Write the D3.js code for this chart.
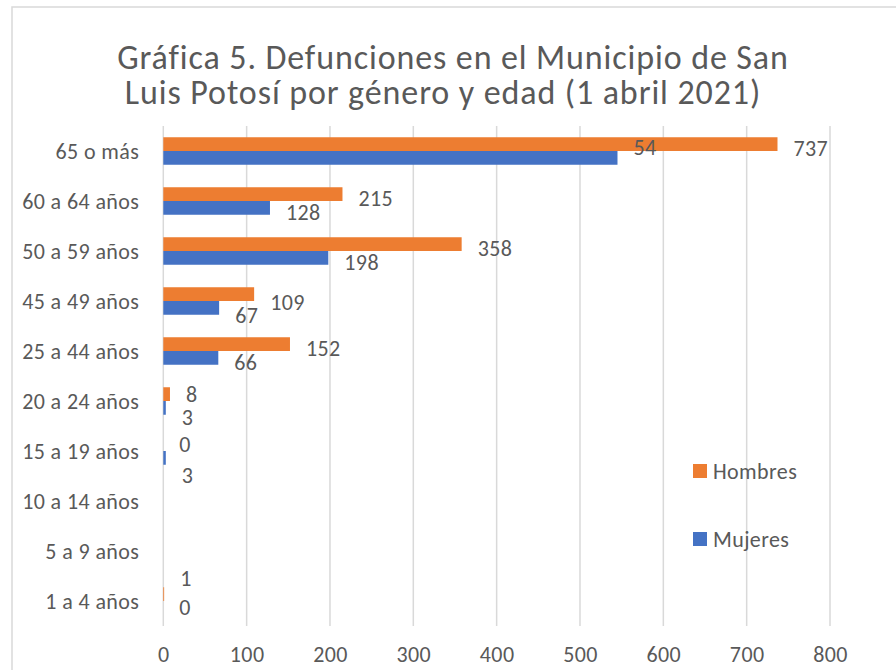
<!DOCTYPE html>
<html>
<head>
<meta charset="utf-8">
<script src="https://cdn.jsdelivr.net/npm/d3@7"></script>
<style>
  html, body { margin: 0; padding: 0; background: #fff; }
  svg { display: block; }
  text { font-family: Carlito, Calibri, Lato, sans-serif; fill: #595959; }
</style>
</head>
<body>
<svg id="chart"></svg>
<script>
const categories = ["65 o más", "60 a 64 años", "50 a 59 años", "45 a 49 años", "25 a 44 años",
  "20 a 24 años", "15 a 19 años", "10 a 14 años", "5 a 9 años", "1 a 4 años"];
const hombres = [737, 215, 358, 109, 152, 8, 0, null, null, 1];
const mujeres = [545, 128, 198, 67, 66, 3, 3, null, null, 0];
// the label on the big Mujeres bar shows "54" in the original
const mujeresLabels = ["54", "128", "198", "67", "66", "3", "3", null, null, "0"];
const xTicks = [0, 100, 200, 300, 400, 500, 600, 700, 800];
const titleLines = ["Gráfica 5. Defunciones en el Municipio de San", "Luis Potosí por género y edad (1 abril 2021)"];

const SERIES = [
  { name: "Hombres", values: hombres, labels: hombres.map(v => v == null ? null : String(v)), color: "#ED7D31" },
  { name: "Mujeres", values: mujeres, labels: mujeresLabels, color: "#4472C4" },
];

const W = 896, H = 670;
const PLOT = { left: 163.3, right: 830, top: 126, bottom: 626 };
const FS = 22;
const LS = "0.4px";

const svg = d3.select("#chart").attr("width", W).attr("height", H);

// chart area border
svg.append("rect")
  .attr("x", 12).attr("y", 7)
  .attr("width", W + 20).attr("height", H + 20)
  .attr("fill", "#fff").attr("stroke", "#d9d9d9").attr("stroke-width", 1.5);

// title
svg.append("text").attr("x", 453).attr("y", 69)
  .attr("text-anchor", "middle").attr("font-size", 34).attr("letter-spacing", "0.9px")
  .text(titleLines[0]);
svg.append("text").attr("x", 443).attr("y", 104)
  .attr("text-anchor", "middle").attr("font-size", 34).attr("letter-spacing", "0.9px")
  .text(titleLines[1]);

// scales
const x = d3.scaleLinear().domain([0, 800]).range([PLOT.left, PLOT.right]);
const y = d3.scaleBand().domain(categories)
  .range([PLOT.top, PLOT.bottom])
  .paddingInner(0.45).paddingOuter(0.225);
const ySub = d3.scaleBand().domain(SERIES.map(s => s.name)).range([0, y.bandwidth()]);

// gridlines
svg.append("g").selectAll("line")
  .data(xTicks)
  .join("line")
    .attr("x1", d => x(d)).attr("x2", d => x(d))
    .attr("y1", PLOT.top).attr("y2", PLOT.bottom)
    .attr("stroke", "#d9d9d9").attr("stroke-width", 1.5);

// x tick labels
const xAxis = svg.append("g")
  .attr("transform", `translate(0,${PLOT.bottom})`)
  .call(d3.axisBottom(x).tickValues(xTicks).tickSize(0).tickPadding(0).tickFormat(d3.format("d")))
  .call(g => g.select(".domain").remove());
xAxis.selectAll(".tick text")
  .attr("font-family", null)
  .attr("font-size", FS)
  .attr("letter-spacing", LS)
  .attr("dy", null)
  .attr("y", 36);

// category labels
const yAxis = svg.append("g")
  .attr("transform", `translate(${PLOT.left},0)`)
  .call(d3.axisLeft(y).tickSize(0).tickPadding(24))
  .call(g => g.select(".domain").remove());
yAxis.selectAll(".tick text")
  .attr("font-family", null)
  .attr("font-size", FS)
  .attr("letter-spacing", LS)
  .attr("dy", "0.36em");

// bars
const rows = [];
SERIES.forEach(s => {
  categories.forEach((c, i) => {
    if (s.values[i] == null) return;
    rows.push({ series: s.name, cat: c, value: s.values[i], label: s.labels[i], color: s.color });
  });
});

svg.append("g").selectAll("rect")
  .data(rows)
  .join("rect")
    .attr("x", x(0))
    .attr("y", d => y(d.cat) + ySub(d.series))
    .attr("width", d => x(d.value) - x(0))
    .attr("height", ySub.bandwidth())
    .attr("fill", d => d.color);

// data labels (Excel moved a few of them to dodge overlaps)
const labelNudge = {
  "Mujeres|65 o más": -11,
  "Hombres|45 a 49 años": 8,
  "Mujeres|45 a 49 años": 7,
  "Hombres|20 a 24 años": 0,
  "Mujeres|20 a 24 años": 9,
  "Hombres|15 a 19 años": 0,
  "Mujeres|15 a 19 años": 17,
  "Hombres|1 a 4 años": -16,
  "Mujeres|1 a 4 años": -1,
};

svg.append("g").selectAll("text")
  .data(rows.filter(d => d.label != null))
  .join("text")
    .attr("x", d => x(d.value) + 16)
    .attr("y", d => {
      const key = d.series + "|" + d.cat;
      const nudge = key in labelNudge ? labelNudge[key] : 4;
      return y(d.cat) + ySub(d.series) + ySub.bandwidth() / 2 + nudge;
    })
    .attr("dy", "0.36em")
    .attr("font-size", FS)
    .attr("letter-spacing", LS)
    .text(d => d.label);

// legend
const legend = svg.append("g");
SERIES.forEach((s, i) => {
  const ly = 464 + i * 68;
  legend.append("rect")
    .attr("x", 693).attr("y", ly)
    .attr("width", 14).attr("height", 14)
    .attr("fill", s.color);
  legend.append("text")
    .attr("x", 713).attr("y", ly + 7)
    .attr("dy", "0.36em")
    .attr("font-size", FS)
    .attr("letter-spacing", LS)
    .text(s.name);
});
</script>
</body>
</html>
